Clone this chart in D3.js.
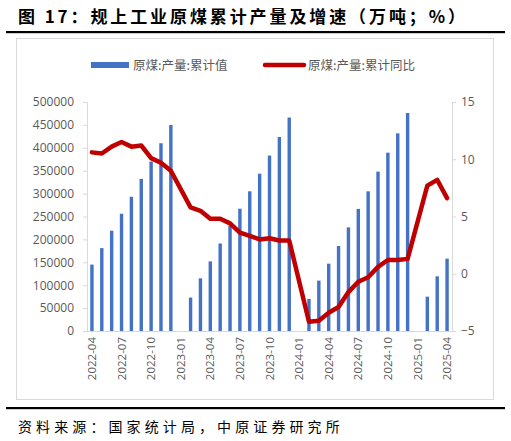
<!DOCTYPE html>
<meta charset="utf-8">
<script src="https://d3js.org/d3.v7.min.js"></script>
<style>
  body { margin: 0; background: #fff; }
  text { font-family: "Noto Sans CJK SC", "DejaVu Sans", sans-serif; }
</style>
<div id="chart"></div>
<script>

// months on the category axis
const months = ["2022-04","2022-05","2022-06","2022-07","2022-08","2022-09","2022-10","2022-11","2022-12",
  "2023-01","2023-02","2023-03","2023-04","2023-05","2023-06","2023-07","2023-08","2023-09","2023-10","2023-11","2023-12",
  "2024-01","2024-02","2024-03","2024-04","2024-05","2024-06","2024-07","2024-08","2024-09","2024-10","2024-11","2024-12",
  "2025-01","2025-02","2025-03","2025-04"];

// 原煤:产量:累计值 (万吨), January has no figure
const cumOutput = [145000, 181000, 219000, 256000, 293000, 332000, 370000, 410000, 450000,
  null, 73000, 115000, 152000, 191000, 230000, 267000, 305000, 343500, 383000, 423600, 466000,
  null, 70000, 110000, 147000, 185600, 226300, 266400, 305000, 348000, 389400, 431600, 476000,
  null, 75000, 119400, 158000];

// 原煤:产量:累计同比 (%)
const cumYoY = [10.6, 10.5, 11.1, 11.5, 11.1, 11.2, 10.1, 9.7, 9.0,
  null, 5.8, 5.5, 4.8, 4.8, 4.4, 3.6, 3.3, 3.0, 3.1, 2.9, 2.9,
  null, -4.2, -4.1, -3.4, -2.9, -1.6, -0.7, -0.3, 0.6, 1.2, 1.2, 1.3,
  null, 7.7, 8.2, 6.6];

const leftTicks = [0, 50000, 100000, 150000, 200000, 250000, 300000, 350000, 400000, 450000, 500000];
const rightTicks = [-5, 0, 5, 10, 15];
const xLabels = months.filter((d, i) => i % 3 === 0);

const W = 511, H = 441;
const plot = {left: 87, right: 452, top: 102, bottom: 331};

const svg = d3.select("#chart").append("svg")
    .attr("width", W)
    .attr("height", H);

// title + rules
svg.append("text")
    .attr("x", 18).attr("y", 23)
    .style("font-size", "17px")
    .style("font-weight", "bold")
    .style("letter-spacing", "2.9px")
    .style("fill", "#000")
    .text("图 17：规上工业原煤累计产量及增速（万吨；%）");
svg.append("rect").attr("x", 6).attr("y", 31).attr("width", 499).attr("height", 2.2).attr("fill", "#000");
svg.append("rect").attr("x", 6).attr("y", 407).attr("width", 499).attr("height", 2.2).attr("fill", "#000");
svg.append("text")
    .attr("x", 18).attr("y", 432)
    .style("font-size", "14px")
    .style("letter-spacing", "4.1px")
    .style("fill", "#000")
    .text("资料来源：国家统计局，中原证券研究所");

// chart frame
svg.append("rect")
    .attr("x", 16.5).attr("y", 38.5).attr("width", 477).attr("height", 361)
    .attr("fill", "none").attr("stroke", "#d9d9d9");

// scales
const x = d3.scaleBand().domain(months).range([plot.left, plot.right]);
const yL = d3.scaleLinear().domain([0, 500000]).range([plot.bottom, plot.top]);
const yR = d3.scaleLinear().domain([-5, 15]).range([plot.bottom, plot.top]);

const grey = "#595959";

// left axis
const axL = svg.append("g")
    .attr("transform", `translate(${plot.left},0)`)
    .call(d3.axisLeft(yL).tickValues(leftTicks).tickSize(4).tickPadding(9).tickFormat(d3.format("d")));
axL.select(".domain").attr("stroke", "#d9d9d9");
axL.selectAll(".tick line").attr("stroke", "#d9d9d9");
axL.selectAll("text").style("font-size", "12px").style("fill", grey).style("font-family", "'Open Sans', 'DejaVu Sans', sans-serif");

// right axis
const axR = svg.append("g")
    .attr("transform", `translate(${plot.right},0)`)
    .call(d3.axisRight(yR).tickValues(rightTicks).tickSize(4).tickPadding(5));
axR.select(".domain").attr("stroke", "#d9d9d9");
axR.selectAll(".tick line").attr("stroke", "#d9d9d9");
axR.selectAll("text").style("font-size", "12px").style("fill", grey).style("font-family", "'Open Sans', 'DejaVu Sans', sans-serif");

// bottom axis
const axB = svg.append("g")
    .attr("transform", `translate(0,${plot.bottom})`)
    .call(d3.axisBottom(x).tickValues(xLabels).tickSize(0).tickPadding(6));
axB.select(".domain").attr("stroke", "#d9d9d9");
axB.selectAll("text")
    .attr("transform", "rotate(-90)")
    .attr("x", -6).attr("y", 0).attr("dy", "0.35em")
    .style("text-anchor", "end")
    .style("font-size", "11.5px").style("fill", grey)
    .style("font-family", "'Open Sans', 'DejaVu Sans', sans-serif");

// bars
const barW = 3.4;
svg.append("g").selectAll("rect")
  .data(months.map((m, i) => ({m, v: cumOutput[i]})).filter(d => d.v !== null))
  .join("rect")
    .attr("x", d => x(d.m) + x.bandwidth() / 2 - barW / 2)
    .attr("y", d => yL(d.v))
    .attr("width", barW)
    .attr("height", d => plot.bottom - yL(d.v))
    .attr("fill", "#4472C4");

// line (gaps bridged)
const lineData = months.map((m, i) => ({m, v: cumYoY[i]})).filter(d => d.v !== null);
svg.append("path")
    .datum(lineData)
    .attr("d", d3.line().x(d => x(d.m) + x.bandwidth() / 2).y(d => yR(d.v)))
    .attr("fill", "none")
    .attr("stroke", "#C00000")
    .attr("stroke-width", 4.5)
    .attr("stroke-linejoin", "round")
    .attr("stroke-linecap", "round");

// legend
const lg = svg.append("g").style("font-size", "12.5px");
lg.append("rect").attr("x", 91).attr("y", 62).attr("width", 38).attr("height", 6).attr("fill", "#4472C4");
lg.append("text").attr("x", 133).attr("y", 69.5).style("fill", grey).text("原煤:产量:累计值");
lg.append("line").attr("x1", 265).attr("x2", 304).attr("y1", 65).attr("y2", 65)
    .attr("stroke", "#C00000").attr("stroke-width", 4.5).attr("stroke-linecap", "round");
lg.append("text").attr("x", 308).attr("y", 69.5).style("fill", grey).text("原煤:产量:累计同比");

</script>
